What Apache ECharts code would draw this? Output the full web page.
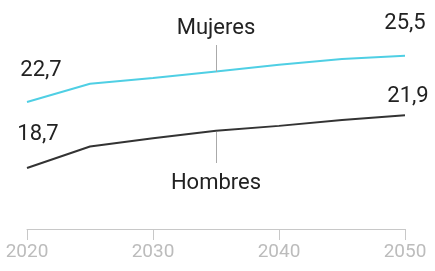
<!DOCTYPE html>
<html>
<head>
<meta charset="utf-8">
<script src="https://cdn.jsdelivr.net/npm/echarts@6/dist/echarts.min.js"></script>
<style>
  html, body { margin: 0; padding: 0; background: #fff; }
  #chart { width: 435px; height: 271px; }
</style>
</head>
<body>
<div id="chart"></div>
<script>
// años (cada 5 años)
var years = [2020, 2025, 2030, 2035, 2040, 2045, 2050];
// esperanza de vida a los 65
var mujeres = [22.7, 23.8, 24.15, 24.55, 24.95, 25.3, 25.5];
var hombres = [18.7, 20.0, 20.5, 20.95, 21.25, 21.6, 21.9];
var xTicks = [2020, 2030, 2040, 2050];

// anotaciones: año del indicador, tramo de la línea guía
var mujeresGuia = [2035, 24.52, 26.15];
var hombresGuia = [2035, 20.88, 19.0];

var myChart = echarts.init(document.getElementById('chart'));
var FONT = 'Roboto';

function fmt(v) {
    return v.toFixed(1).replace('.', ',');
}

function buildData(vals, firstOffset, lastOffset) {
    var out = [];
    vals.forEach(function(v, i) {
        var item = { value: [years[i], v] };
        if (i === 0 || i === vals.length - 1) {
            item.label = {
                show: true,
                position: 'inside',
                offset: i === 0 ? firstOffset : lastOffset,
                formatter: fmt(v),
                fontFamily: FONT,
                fontSize: 22,
                color: '#222'
            };
        }
        out.push(item);
    });
    return out;
}

function guia(g, name, dist) {
    return {
        symbol: ['none', 'none'],
        silent: true,
        animation: false,
        lineStyle: { color: '#aaa', width: 1, type: 'solid' },
        label: {
            show: true,
            position: 'end',
            distance: dist,
            formatter: name,
            fontFamily: FONT,
            fontSize: 22,
            color: '#222'
        },
        data: [[{ coord: [g[0], g[1]] }, { coord: [g[0], g[2]] }]]
    };
}

var option = {
    animation: false,
    grid: { left: 27, right: 30, top: 31, bottom: 42 },
    xAxis: {
        type: 'value',
        min: 2020,
        max: 2050,
        interval: 10,
        axisLine: { show: true, lineStyle: { color: '#c8c8c8', width: 1 } },
        axisTick: { show: true, length: 11, lineStyle: { color: '#c8c8c8' } },
        axisLabel: {
            margin: 14,
            fontFamily: FONT,
            fontSize: 19,
            color: '#bcbcbc',
            formatter: function(v) { return xTicks.indexOf(v) >= 0 ? String(v) : ''; }
        },
        splitLine: { show: false }
    },
    yAxis: {
        type: 'value',
        min: 15,
        max: 27,
        show: false
    },
    series: [{
        name: 'Mujeres',
        type: 'line',
        data: buildData(mujeres, [14, -31], [0, -32]),
        symbol: 'circle',
        symbolSize: 0,
        showAllSymbol: true,
        lineStyle: { color: '#4fcfe4', width: 2 },
        markLine: guia(mujeresGuia, 'Mujeres', 6)
    }, {
        name: 'Hombres',
        type: 'line',
        data: buildData(hombres, [11, -33], [3, -19]),
        symbol: 'circle',
        symbolSize: 0,
        showAllSymbol: true,
        lineStyle: { color: '#333', width: 2 },
        markLine: guia(hombresGuia, 'Hombres', 9)
    }]
};
myChart.setOption(option);
</script>
</body>
</html>
